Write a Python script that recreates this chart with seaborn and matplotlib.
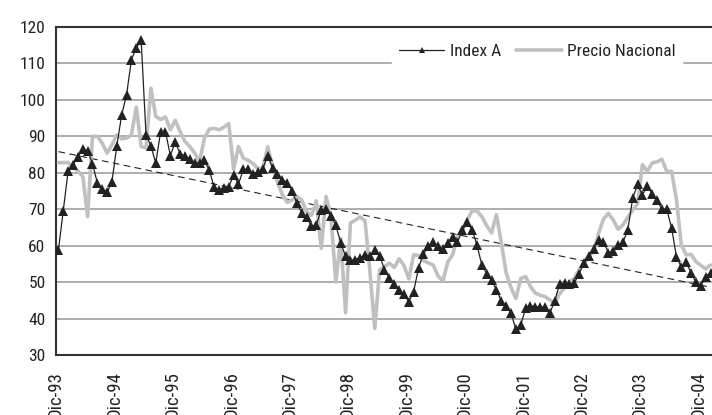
import numpy as np
import pandas as pd
import matplotlib
matplotlib.use("Agg")
import matplotlib.pyplot as plt
from matplotlib import font_manager
import seaborn as sns

# monthly values, Dic-93 .. Feb-05
index_a = [58.8, 69.6, 80.6, 82.2, 84.3, 86.5, 86.0, 82.5, 77.2, 75.5,
           74.6, 77.6, 87.4, 95.9, 101.4, 111.0, 114.3, 116.3, 90.4, 87.4,
           82.6, 91.3, 91.3, 84.7, 88.5, 85.2, 84.5, 83.7, 82.8, 82.7,
           83.4, 80.7, 76.0, 75.3, 75.8, 76.2, 79.3, 76.9, 80.9, 80.9,
           79.8, 80.3, 81.1, 84.7, 81.3, 79.7, 78.1, 77.3, 75.1, 71.6,
           69.0, 67.9, 65.3, 65.7, 69.8, 70.0, 68.2, 65.6, 60.8, 57.1,
           56.0, 56.2, 56.6, 57.4, 57.2, 58.7, 57.3, 53.4, 51.2, 49.6,
           47.7, 46.7, 44.6, 47.4, 53.9, 57.7, 59.8, 60.9, 59.9, 59.0,
           60.7, 62.5, 60.9, 64.3, 66.4, 64.3, 60.2, 54.7, 52.3, 50.6,
           47.9, 44.9, 43.5, 41.6, 37.0, 38.2, 42.8, 43.5, 43.3, 43.1,
           43.1, 41.6, 44.9, 49.5, 49.7, 49.5, 49.7, 52.3, 55.2, 57.2,
           59.0, 61.6, 61.1, 58.1, 58.4, 60.2, 60.9, 64.3, 73.0, 76.8,
           73.9, 76.4, 74.2, 72.4, 70.0, 70.0, 64.8, 57.0, 54.1, 55.4,
           52.6, 49.9, 49.0, 51.5, 52.6]

precio = [82.8, 82.8, 82.8, 81.5, 80.5, 79.0, 68.0, 90.0, 90.0, 88.1,
          85.4, 87.7, 90.4, 89.3, 89.5, 90.4, 98.0, 87.2, 86.8, 103.2,
          95.5, 94.6, 95.3, 91.8, 94.4, 91.3, 88.6, 87.2, 85.4, 83.1,
          89.5, 92.0, 92.2, 91.8, 92.5, 93.5, 81.0, 87.2, 84.0, 83.4,
          82.5, 81.2, 81.2, 87.1, 81.7, 77.5, 74.0, 71.9, 72.5, 73.5,
          72.5, 69.3, 68.3, 72.3, 59.3, 73.5, 68.0, 50.0, 62.0, 41.6,
          66.2, 67.0, 67.9, 66.8, 53.0, 37.3, 53.4, 54.2, 55.2, 54.0,
          56.4, 54.6, 50.9, 57.5, 57.3, 55.9, 55.3, 54.7, 51.7, 50.3,
          55.5, 57.5, 62.5, 64.0, 67.0, 69.6, 69.5, 68.0, 65.5, 63.5,
          68.5, 60.9, 52.5, 48.5, 45.5, 51.0, 51.5, 48.8, 47.0, 46.4,
          46.0, 45.1, 44.2, 46.8, 48.5, 50.0, 51.0, 53.4, 55.5, 57.2,
          58.4, 63.4, 67.3, 68.9, 67.1, 64.5, 65.7, 67.8, 69.8, 71.5,
          82.2, 80.4, 82.7, 83.0, 83.7, 80.4, 80.4, 72.6, 60.2, 57.5,
          57.6, 55.6, 54.6, 53.6, 54.7]

# trend line end values (first and last month)
trend_vals = [85.8, 48.6]

tick_labels = ["Dic-93", "Dic-94", "Dic-95", "Dic-96", "Dic-97", "Dic-98",
               "Dic-99", "Dic-00", "Dic-01", "Dic-02", "Dic-03", "Dic-04"]

months = np.arange(len(index_a)) + 0.5
df = pd.DataFrame({"mes": months, "Index A": index_a, "Precio Nacional": precio})
trend_df = pd.DataFrame({"mes": [months[0], months[-1]], "trend": trend_vals})

sns.set_style("white")

# narrow font if there is one, otherwise plain Liberation Sans
installed = {f.name for f in font_manager.fontManager.ttflist}
narrow = [n for n in ["Liberation Sans Narrow", "Roboto Condensed", "DejaVu Sans Condensed"]
          if n in installed]
if narrow:
    plt.rcParams["font.family"] = [narrow[0], "DejaVu Sans"]
    fsize = 12.5
    stretch = None
else:
    plt.rcParams["font.family"] = ["Liberation Sans", "DejaVu Sans"]
    fsize = 11.5
    stretch = "condensed"

fig = plt.figure(figsize=(7.12, 4.15), dpi=100)
ax = fig.add_axes([56 / 712, 60 / 415, 656 / 712, 328 / 415])

sns.lineplot(data=df, x="mes", y="Index A", ax=ax, color="#222222", linewidth=0.9,
             marker="^", markersize=7, markeredgewidth=0, label="Index A", zorder=4)
sns.lineplot(data=df, x="mes", y="Precio Nacional", ax=ax, color="#c0c0c0",
             linewidth=2.6, label="Precio Nacional", zorder=3)
sns.lineplot(data=trend_df, x="mes", y="trend", ax=ax, color="#222222",
             linewidth=0.8, dashes=False, zorder=2)
ax.lines[-1].set_dashes([6, 4])

ax.set_xlim(0, 134.8)
ax.set_ylim(30, 120)
ax.set_yticks(range(30, 121, 10))
ax.set_xticks(np.arange(len(tick_labels)) * 12)
ax.set_xticklabels(tick_labels, rotation=90)
ax.set_xlabel("")
ax.set_ylabel("")

ax.yaxis.grid(True, color="#a0a0a0", linewidth=1.2)
ax.xaxis.grid(False)
ax.set_axisbelow(True)

for side in ["left", "bottom", "top"]:
    ax.spines[side].set_color("#333333")
    ax.spines[side].set_linewidth(1.5)
ax.spines["right"].set_visible(False)

ax.tick_params(axis="both", direction="out", length=4.5, width=1, color="#333333",
               labelsize=fsize, labelcolor="#222222", pad=3)
ax.tick_params(axis="x", labelsize=fsize + 1, pad=7)

leg = ax.legend(loc="upper right", bbox_to_anchor=(0.968, 0.995), ncol=2,
                fontsize=fsize, frameon=True, fancybox=False, edgecolor="white",
                facecolor="white", framealpha=1, handlelength=2.6,
                handletextpad=0.3, columnspacing=0.9, borderpad=0.4)
for t in leg.get_texts():
    t.set_color("#222222")
leg.legend_handles[0].set_markersize(5)

if stretch:
    for t in ax.get_xticklabels() + ax.get_yticklabels() + leg.get_texts():
        t.set_fontstretch(stretch)

fig.savefig("out.png", dpi=100)
